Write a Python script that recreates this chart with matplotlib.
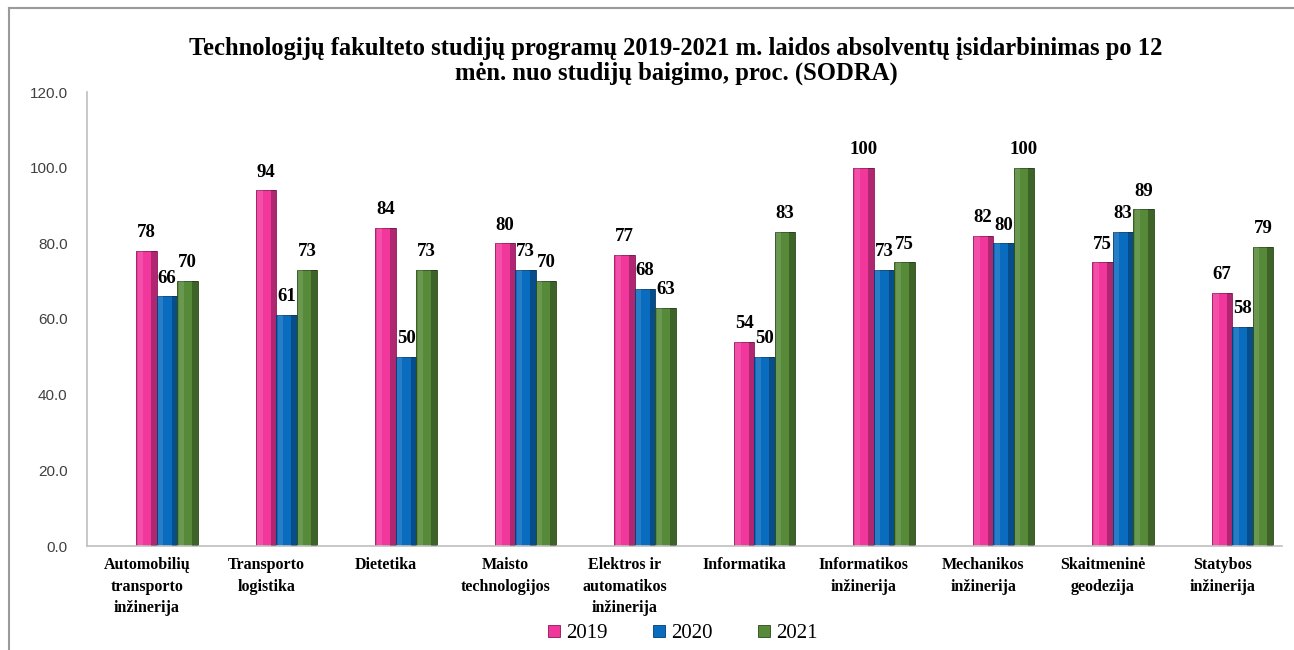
import numpy as np
import matplotlib.pyplot as plt
from matplotlib.lines import Line2D
from matplotlib.patches import Patch
from matplotlib.font_manager import FontProperties

programs = [
    "Automobilių\ntransporto\ninžinerija",
    "Transporto\nlogistika",
    "Dietetika",
    "Maisto\ntechnologijos",
    "Elektros ir\nautomatikos\ninžinerija",
    "Informatika",
    "Informatikos\ninžinerija",
    "Mechanikos\ninžinerija",
    "Skaitmeninė\ngeodezija",
    "Statybos\ninžinerija",
]
years = ["2019", "2020", "2021"]
v2019 = [78, 94, 84, 80, 77, 54, 100, 82, 75, 67]
v2020 = [66, 61, 50, 73, 68, 50, 73, 80, 83, 58]
v2021 = [70, 73, 73, 70, 63, 83, 75, 100, 89, 79]
yticks = [0, 20, 40, 60, 80, 100, 120]

COLORS = ["#F2379C", "#0A6CBF", "#578A38"]
DARK = ["#8E1457", "#053C6E", "#2A4A18"]
SERIF = ["Liberation Serif", "DejaVu Serif"]

fig = plt.figure(figsize=(12.94, 6.5), dpi=100)
ax = fig.add_axes([87 / 1294, 1 - 546 / 650, (1282 - 87) / 1294, (546 - 92) / 650])

x = np.arange(len(programs))
w = 0.171
shift = 0.17
for k, vals in enumerate([v2019, v2020, v2021]):
    xs = x + shift + (k - 1) * w
    ax.bar(xs, vals, width=w, color=COLORS[k], edgecolor=DARK[k], linewidth=0.6, zorder=2)
    # rough cylinder shading
    ax.bar(xs + w * 0.36, vals, width=w * 0.28, color="black", alpha=0.28, linewidth=0, zorder=3)
    ax.bar(xs - w * 0.30, vals, width=w * 0.25, color="white", alpha=0.12, linewidth=0, zorder=3)
    for xi, v in zip(xs, vals):
        ax.annotate(f"{v}", (xi, v), xytext=(0, 7), textcoords="offset points",
                    ha="center", va="bottom", fontsize=13.5, fontweight="bold",
                    family=SERIF, color="black", zorder=4)

ax.set_xlim(-0.5, len(programs) - 0.5)
ax.set_ylim(0, 120)
ax.set_yticks(yticks)
ax.set_yticklabels([f"{t:.1f}" for t in yticks], fontsize=11,
                   family=["Liberation Sans"], color="#404040")
ax.set_xticks(x)
ax.set_xticklabels(programs, fontsize=11.5, fontweight="bold", family=SERIF,
                   linespacing=1.45, va="top")
ax.tick_params(axis="both", length=0)
ax.tick_params(axis="y", pad=14)
ax.tick_params(axis="x", pad=8)
for s in ["top", "right"]:
    ax.spines[s].set_visible(False)
for s in ["left", "bottom"]:
    ax.spines[s].set_color("#BFBFBF")
    ax.spines[s].set_linewidth(1.2)

fig.text(676 / 1294, 1 - 61 / 650,
         "Technologijų fakulteto studijų programų 2019-2021 m. laidos absolventų įsidarbinimas po 12\n"
         "mėn. nuo studijų baigimo, proc. (SODRA)",
         ha="center", va="center", fontsize=17.7, fontweight="bold", family=SERIF,
         linespacing=1.12)

handles = [Patch(facecolor=c, edgecolor=d, linewidth=0.6) for c, d in zip(COLORS, DARK)]
fig.legend(handles, years, loc="center", bbox_to_anchor=(683 / 1294, 1 - 634 / 650),
           ncol=3, frameon=False, prop=FontProperties(family=SERIF, size=15),
           handlelength=0.55, handleheight=0.55, handletextpad=0.3, columnspacing=2.2)

# outer frame (top and left edges visible)
fig.add_artist(Line2D([9 / 1294, 9 / 1294], [0, 1 - 8 / 650], color="#9A9A9A", lw=1.5))
fig.add_artist(Line2D([9 / 1294, 1], [1 - 8 / 650, 1 - 8 / 650], color="#9A9A9A", lw=1.5))

fig.savefig("out.png", dpi=100)
